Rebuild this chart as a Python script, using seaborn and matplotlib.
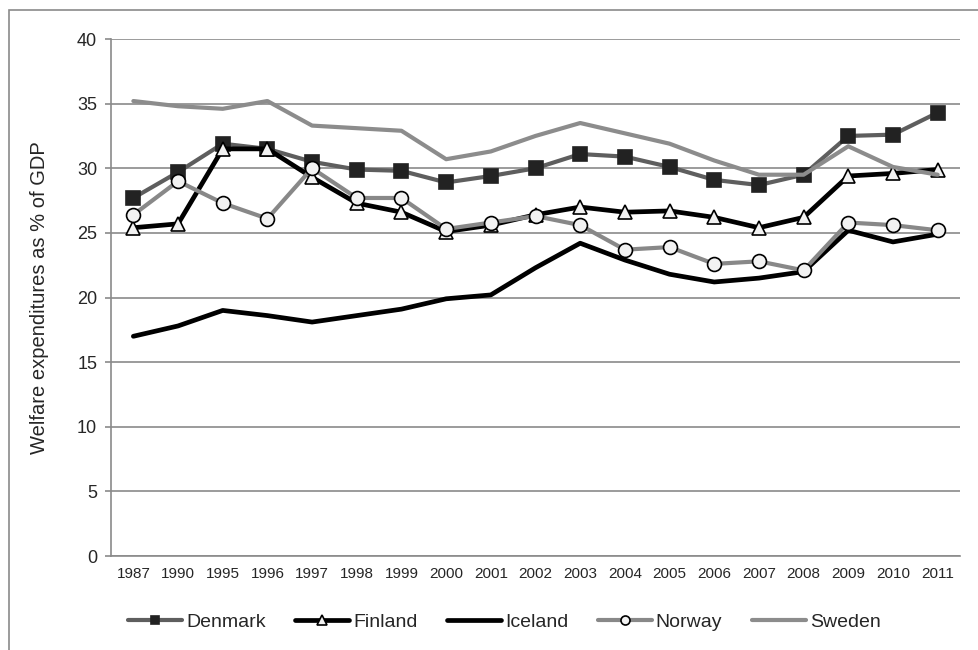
import seaborn as sns
import matplotlib.pyplot as plt
import matplotlib.patches as mpatches
import pandas as pd

years = ["1987", "1990", "1995", "1996", "1997", "1998", "1999", "2000", "2001", "2002",
         "2003", "2004", "2005", "2006", "2007", "2008", "2009", "2010", "2011"]
denmark = [27.7, 29.7, 31.9, 31.5, 30.5, 29.9, 29.8, 28.9, 29.4, 30.0,
           31.1, 30.9, 30.1, 29.1, 28.7, 29.5, 32.5, 32.6, 34.3]
finland = [25.4, 25.7, 31.5, 31.5, 29.3, 27.3, 26.6, 25.1, 25.6, 26.4,
           27.0, 26.6, 26.7, 26.2, 25.4, 26.2, 29.4, 29.6, 29.9]
iceland = [17.0, 17.8, 19.0, 18.6, 18.1, 18.6, 19.1, 19.9, 20.2, 22.3,
           24.2, 22.9, 21.8, 21.2, 21.5, 22.0, 25.2, 24.3, 24.9]
norway = [26.4, 29.0, 27.3, 26.1, 30.0, 27.7, 27.7, 25.3, 25.8, 26.3,
          25.6, 23.7, 23.9, 22.6, 22.8, 22.1, 25.8, 25.6, 25.2]
sweden = [35.2, 34.8, 34.6, 35.2, 33.3, 33.1, 32.9, 30.7, 31.3, 32.5,
          33.5, 32.7, 31.9, 30.6, 29.5, 29.5, 31.7, 30.1, 29.5]

series = {"Denmark": denmark, "Finland": finland, "Iceland": iceland,
          "Norway": norway, "Sweden": sweden}

# line colour, line width, marker, marker face
styles = {
    "Denmark": ("#5e5e5e", 3.0, "s", "#222222"),
    "Finland": ("#000000", 3.4, "^", "#f2f2f2"),
    "Iceland": ("#000000", 3.4, None, None),
    "Norway": ("#888888", 3.0, "o", "#f2f2f2"),
    "Sweden": ("#8c8c8c", 3.0, None, None),
}

sns.set_style("white")
plt.rcParams["font.family"] = ["Liberation Sans", "DejaVu Sans"]

fig = plt.figure(figsize=(9.79, 6.5), dpi=100)
ax = fig.add_axes([0.1134, 0.1446, 0.8672, 0.7954])

# outer chart border (cropped on right/bottom)
fig.patches.append(mpatches.Rectangle((9 / 979, -0.05), 1.2, 1 - 10 / 650 + 0.05,
                                      transform=fig.transFigure, fill=False,
                                      edgecolor="#8a8a8a", linewidth=1.2))

for name, vals in series.items():
    df = pd.DataFrame({"year": years, "value": vals})
    color, lw, marker, face = styles[name]
    kw = dict(color=color, linewidth=lw, sort=False, label=name, ax=ax)
    if marker is not None:
        kw.update(marker=marker, markersize=10 if marker != "s" else 9.5,
                  markerfacecolor=face,
                  markeredgecolor="#000000" if marker != "s" else face,
                  markeredgewidth=1.2)
    sns.lineplot(data=df, x="year", y="value", **kw)

if ax.get_legend() is not None:
    ax.get_legend().remove()

ax.set_xlim(-0.5, len(years) - 0.5)
ax.set_ylim(0, 40)
ax.set_yticks(range(0, 41, 5))
ax.set_xticks(range(len(years)))
ax.set_xticklabels(years)
ax.set_xticks([i - 0.5 for i in range(len(years) + 1)], minor=True)
ax.yaxis.grid(True, color="#8a8a8a", linewidth=1.2)
ax.xaxis.grid(False)

for side in ["top", "right"]:
    ax.spines[side].set_visible(False)
for side in ["left", "bottom"]:
    ax.spines[side].set_color("#8a8a8a")
    ax.spines[side].set_linewidth(1.2)

ax.tick_params(axis="x", which="major", length=0, labelsize=11, pad=8)
ax.tick_params(axis="x", which="minor", length=4, color="#8a8a8a", width=1.2, direction="out")
ax.tick_params(axis="y", length=4, color="#8a8a8a", width=1.2, labelsize=13, pad=6, left=True)

ax.set_xlabel("")
ax.set_ylabel("Welfare expenditures as % of GDP", fontsize=14.5, labelpad=20)

handles, labels = ax.get_legend_handles_labels()
lookup = dict(zip(labels, handles))
names = list(series.keys())
leg = fig.legend([lookup[n] for n in names], names, loc="center",
                 bbox_to_anchor=(0.515, 0.043), ncol=5, frameon=False,
                 fontsize=14, handlelength=2.8, handletextpad=0.2,
                 columnspacing=1.5, markerscale=0.65)

fig.savefig("out.png", dpi=100)
